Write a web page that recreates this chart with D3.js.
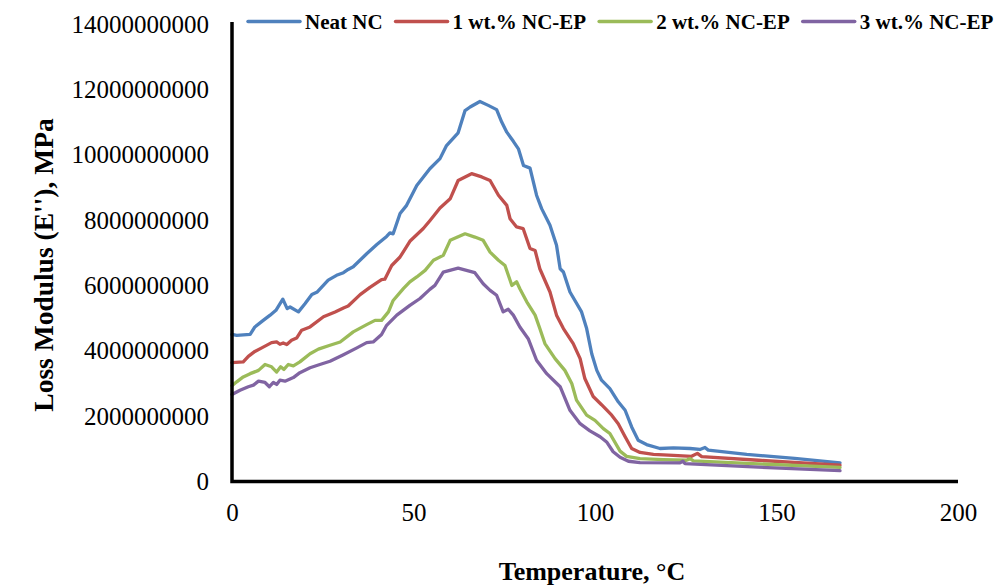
<!DOCTYPE html>
<html>
<head>
<meta charset="utf-8">
<script src="https://cdn.jsdelivr.net/npm/d3@7"></script>
<style>
  html, body { margin: 0; padding: 0; background: #fff; }
  svg { display: block; }
</style>
</head>
<body>
<svg id="chart" width="999" height="587"></svg>
<script>
// ---------- DATA ----------
const seriesNames = ["Neat NC", "1 wt.% NC-EP", "2 wt.% NC-EP", "3 wt.% NC-EP"];
const seriesColors = ["#4F81BD", "#C0504D", "#9BBB59", "#8064A2"];

const xTicks = [0, 50, 100, 150, 200];
const yTicks = [0, 2000000000, 4000000000, 6000000000, 8000000000, 10000000000, 12000000000, 14000000000];

const tempNeat = [0, 1.3, 5, 6.3, 8.6, 10.5, 12.1, 14, 15.2, 16, 18.3, 20.1, 22, 23.5, 26.5, 28.8, 30.7, 32, 33.4, 37.1, 39.9, 42.6, 43.5, 44.4, 46.3, 48.1, 50.9, 54.5, 57.3, 59.1, 62.3, 64.2, 65.6, 68.3, 70.6, 72.9, 74.3, 75.7, 77.5, 78.9, 80.3, 82.1, 83.9, 85.3, 87.6, 89.4, 90.4, 91.3, 93.1, 96.3, 97.7, 99.1, 100.5, 101.8, 104.1, 106.4, 108.3, 110.1, 111.9, 114.2, 117.9, 121.6, 126.2, 128.9, 130.3, 131.2, 141.8, 155, 167.5];
const lossNeat = [4.50e9, 4.47e9, 4.50e9, 4.73e9, 4.93e9, 5.09e9, 5.24e9, 5.58e9, 5.29e9, 5.34e9, 5.19e9, 5.44e9, 5.72e9, 5.80e9, 6.16e9, 6.31e9, 6.39e9, 6.49e9, 6.57e9, 6.97e9, 7.25e9, 7.50e9, 7.61e9, 7.58e9, 8.20e9, 8.45e9, 9.06e9, 9.57e9, 9.88e9, 10.28e9, 10.67e9, 11.35e9, 11.46e9, 11.63e9, 11.51e9, 11.38e9, 11.00e9, 10.69e9, 10.41e9, 10.18e9, 9.67e9, 9.59e9, 8.76e9, 8.35e9, 7.84e9, 7.23e9, 6.51e9, 6.41e9, 5.80e9, 5.19e9, 4.68e9, 3.91e9, 3.40e9, 3.10e9, 2.84e9, 2.44e9, 2.18e9, 1.67e9, 1.26e9, 1.13e9, 1.01e9, 1.03e9, 1.01e9, 0.98e9, 1.04e9, 0.96e9, 0.83e9, 0.71e9, 0.57e9];

const temp1 = [0, 3.1, 4.5, 6.3, 8.2, 10.9, 12.3, 13.2, 14.1, 15.1, 16.4, 17.8, 19.2, 21.5, 25.2, 28.4, 30.7, 32, 35.3, 38, 41.2, 42.1, 44, 46.3, 49, 52.7, 54.5, 57.3, 60.1, 62.3, 66, 68.8, 71.1, 73.4, 75.7, 76.6, 78.4, 80.2, 82.1, 83.5, 84.8, 87.6, 89.4, 91.3, 94, 95.9, 97.2, 99.5, 101.8, 104.6, 106.4, 108.3, 110.1, 112.4, 116.1, 121.6, 126.6, 128.2, 129.4, 145, 167.5];
const loss1 = [3.64e9, 3.66e9, 3.83e9, 3.98e9, 4.09e9, 4.25e9, 4.27e9, 4.20e9, 4.24e9, 4.19e9, 4.32e9, 4.39e9, 4.63e9, 4.73e9, 5.04e9, 5.19e9, 5.31e9, 5.37e9, 5.72e9, 5.94e9, 6.18e9, 6.19e9, 6.61e9, 6.87e9, 7.35e9, 7.74e9, 7.98e9, 8.37e9, 8.65e9, 9.21e9, 9.42e9, 9.32e9, 9.21e9, 8.76e9, 8.45e9, 8.04e9, 7.79e9, 7.74e9, 7.13e9, 7.07e9, 6.51e9, 5.80e9, 5.09e9, 4.68e9, 4.22e9, 3.76e9, 3.15e9, 2.60e9, 2.35e9, 2.03e9, 1.77e9, 1.37e9, 1.01e9, 0.89e9, 0.83e9, 0.80e9, 0.77e9, 0.86e9, 0.76e9, 0.65e9, 0.50e9];

const temp2 = [0, 1.3, 3.1, 5, 7.3, 9.1, 10.9, 12.3, 13.4, 14.3, 15.5, 16.9, 18.7, 21.5, 23.8, 27, 29.8, 33.4, 37.1, 39.4, 41.2, 43.1, 44.4, 47.2, 49, 50.9, 53.2, 55.5, 58.2, 60.1, 64.2, 66.9, 69.2, 71.1, 73.4, 75.2, 77.1, 78.4, 79.3, 81.2, 83.5, 84.8, 86.2, 89, 91.7, 93.6, 94.9, 97.7, 100, 102.3, 104.1, 106.9, 108.7, 112.4, 118.8, 125.2, 126.2, 127.1, 145, 167.5];
const loss2 = [2.93e9, 3.05e9, 3.20e9, 3.30e9, 3.40e9, 3.58e9, 3.51e9, 3.35e9, 3.51e9, 3.43e9, 3.58e9, 3.54e9, 3.66e9, 3.91e9, 4.05e9, 4.17e9, 4.27e9, 4.58e9, 4.80e9, 4.93e9, 4.93e9, 5.19e9, 5.54e9, 5.90e9, 6.11e9, 6.26e9, 6.46e9, 6.77e9, 6.92e9, 7.38e9, 7.58e9, 7.48e9, 7.38e9, 7.02e9, 6.77e9, 6.61e9, 6.00e9, 6.11e9, 5.90e9, 5.50e9, 5.09e9, 4.68e9, 4.22e9, 3.76e9, 3.40e9, 3.00e9, 2.49e9, 2.03e9, 1.87e9, 1.62e9, 1.47e9, 0.93e9, 0.77e9, 0.70e9, 0.67e9, 0.65e9, 0.70e9, 0.63e9, 0.54e9, 0.43e9];

const temp3 = [0, 2.2, 4.5, 5.9, 7.3, 9.1, 10.3, 11.4, 12.3, 13.2, 14.6, 16.9, 18.7, 21.5, 24.2, 27, 30.7, 34.4, 37.1, 38.9, 41.2, 42.6, 45.4, 49, 51.8, 54.5, 55.9, 58.2, 62.3, 66.9, 69.2, 71.1, 72.9, 74.7, 76.1, 77.5, 79.3, 81.6, 83.9, 86.7, 90.4, 93.1, 95.9, 98.6, 101.4, 103.2, 105, 106.9, 109.2, 112.4, 123.4, 124.2, 124.8, 145, 167.5];
const loss3 = [2.66e9, 2.79e9, 2.90e9, 2.95e9, 3.07e9, 3.03e9, 2.90e9, 3.03e9, 2.97e9, 3.10e9, 3.07e9, 3.18e9, 3.33e9, 3.48e9, 3.58e9, 3.68e9, 3.88e9, 4.09e9, 4.25e9, 4.27e9, 4.50e9, 4.78e9, 5.09e9, 5.39e9, 5.60e9, 5.88e9, 6.00e9, 6.41e9, 6.53e9, 6.39e9, 6.05e9, 5.85e9, 5.70e9, 5.19e9, 5.27e9, 5.09e9, 4.73e9, 4.37e9, 3.71e9, 3.30e9, 2.90e9, 2.18e9, 1.77e9, 1.55e9, 1.37e9, 1.21e9, 0.91e9, 0.74e9, 0.62e9, 0.58e9, 0.57e9, 0.62e9, 0.55e9, 0.44e9, 0.33e9];

const xTitle = "Temperature, \u00B0C";
const yTitle = "Loss Modulus (E''), MPa";

// ---------- BUILD ----------
const temps = [tempNeat, temp1, temp2, temp3];
const losses = [lossNeat, loss1, loss2, loss3];
const series = seriesNames.map((name, i) => ({
  name, color: seriesColors[i],
  points: temps[i].map((t, j) => ({ t, v: losses[i][j] }))
}));

const svg = d3.select("#chart");
svg.append("rect").attr("width", 999).attr("height", 587).attr("fill", "#fff");

const serif = "'Liberation Serif', 'Times New Roman', serif";
const plotLeft = 232, plotRight = 958, plotTop = 24, plotBottom = 481.5;

const x = d3.scaleLinear().domain([0, 200]).range([plotLeft, plotRight]);
const y = d3.scaleLinear().domain([0, 14000000000]).range([plotBottom, plotTop]);

// Lines
const line = d3.line().x(d => x(d.t)).y(d => y(d.v));
svg.append("g").selectAll("path").data(series).join("path")
  .attr("d", d => line(d.points))
  .attr("fill", "none")
  .attr("stroke", d => d.color)
  .attr("stroke-width", 3.3)
  .attr("stroke-linejoin", "round")
  .attr("stroke-linecap", "round");

// Axes
const yAxis = svg.append("g").attr("transform", `translate(${plotLeft},0)`)
  .call(d3.axisLeft(y).tickValues(yTicks).tickFormat(d3.format("d")).tickSize(0).tickPadding(23));
const xAxis = svg.append("g").attr("transform", `translate(0,${plotBottom})`)
  .call(d3.axisBottom(x).tickValues(xTicks).tickFormat(d3.format("d")).tickSize(0).tickPadding(22));

[yAxis, xAxis].forEach(g => {
  g.select(".domain").remove();
  g.selectAll("text").attr("font-family", serif).attr("font-size", 25).attr("fill", "#000");
});

svg.append("path")
  .attr("d", `M${plotLeft},${plotTop - 2}V${plotBottom}H${plotRight}`)
  .attr("fill", "none").attr("stroke", "#000").attr("stroke-width", 3.5)
  .attr("stroke-linejoin", "miter");

// Axis titles
svg.append("text")
  .attr("x", 592).attr("y", 580)
  .attr("text-anchor", "middle")
  .attr("font-family", serif).attr("font-weight", "bold").attr("font-size", 26)
  .text(xTitle);

svg.append("text")
  .attr("transform", "translate(53,265) rotate(-90)")
  .attr("text-anchor", "middle")
  .attr("font-family", serif).attr("font-weight", "bold").attr("font-size", 27.5)
  .text(yTitle);

// Legend
const legend = svg.append("g");
let lx = 248;
const ly = 21.5;
series.forEach(s => {
  legend.append("line")
    .attr("x1", lx).attr("x2", lx + 52).attr("y1", ly).attr("y2", ly)
    .attr("stroke", s.color).attr("stroke-width", 3.5).attr("stroke-linecap", "round");
  const t = legend.append("text")
    .attr("x", lx + 57).attr("y", ly + 7)
    .attr("font-family", serif).attr("font-weight", "bold").attr("font-size", 21)
    .attr("fill", "#000")
    .text(s.name);
  lx += 57 + t.node().getComputedTextLength() + 13;
});
</script>
</body>
</html>
